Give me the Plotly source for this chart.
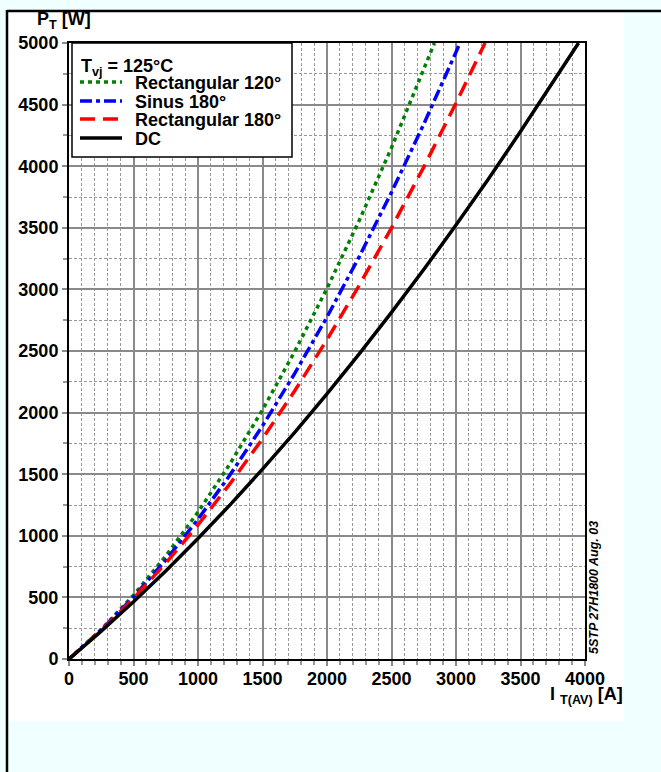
import plotly.graph_objects as go

# Average on-state current I_T(AV) [A] and power loss P_T [W]
i_rect120 = [0, 250, 500, 750, 1000, 1250, 1500, 1750, 2000, 2250, 2500, 2750, 2833]
p_rect120 = [0, 240, 518, 836, 1192, 1588, 2022, 2496, 3008, 3560, 4150, 4780, 5000]

i_sin180 = [0, 250, 500, 750, 1000, 1250, 1500, 1750, 2000, 2250, 2500, 2750, 3000, 3030]
p_sin180 = [0, 236, 504, 803, 1134, 1497, 1892, 2318, 2776, 3266, 3788, 4341, 4926, 5000]

i_rect180 = [0, 250, 500, 750, 1000, 1250, 1500, 1750, 2000, 2250, 2500, 2750, 3000, 3225]
p_rect180 = [0, 233, 492, 777, 1088, 1425, 1788, 2177, 2592, 3033, 3500, 3993, 4512, 5000]

i_dc = [0, 250, 500, 750, 1000, 1250, 1500, 1750, 2000, 2250, 2500, 2750, 3000, 3250, 3500, 3750, 3950]
p_dc = [0, 226, 465, 715, 978, 1253, 1541, 1840, 2152, 2476, 2813, 3161, 3522, 3895, 4281, 4678, 5000]

series_names = ["Rectangular 120°", "Sinus 180°", "Rectangular 180°", "DC"]
x_ticks = [0, 500, 1000, 1500, 2000, 2500, 3000, 3500, 4000]
y_ticks = [0, 500, 1000, 1500, 2000, 2500, 3000, 3500, 4000, 4500, 5000]

FONT = "Liberation Sans, Arial, sans-serif"
bold = dict(family=FONT, size=18, color="black", weight="bold")

styles = [
    dict(color="#008000", width=3.5, dash="4px,4px"),
    dict(color="#0000FF", width=3.5, dash="12px,4px,4px,4px"),
    dict(color="#FF0000", width=3.5, dash="15px,8px"),
    dict(color="black", width=3.5),
]
data = [(i_rect120, p_rect120), (i_sin180, p_sin180), (i_rect180, p_rect180), (i_dc, p_dc)]

fig = go.Figure()
for (xs, ys), name, st in zip(data, series_names, styles):
    fig.add_trace(go.Scatter(x=xs, y=ys, mode="lines", name=name, line=st, showlegend=False))

W, H = 661, 772
L, R, T, B = 69, 76, 43, 113
pw, ph = W - L - R, H - T - B

def px(xp):
    return (xp - L) / pw

def py(yp):
    return (H - B - yp) / ph

axis_common = dict(
    showline=True, linecolor="black", linewidth=2, mirror=True,
    showgrid=True, gridcolor="#8a8a8a", gridwidth=1.8,
    ticks="outside", ticklen=5, tickcolor="#8a8a8a", tickwidth=1.5,
    tickfont=bold, zeroline=False, automargin=False,
)

fig.update_xaxes(range=[0, 4000], tickvals=x_ticks, ticktext=[str(v) for v in x_ticks],
                 ticklabelstandoff=-3,
                 minor=dict(dtick=100, showgrid=True, gridcolor="#999999", gridwidth=1,
                            griddash="3px,2px", ticks="outside", ticklen=4, tickcolor="#999999"),
                 **axis_common)
fig.update_yaxes(range=[0, 5000], tickvals=y_ticks, ticktext=[str(v) for v in y_ticks],
                 minor=dict(dtick=250, showgrid=True, gridcolor="#999999", gridwidth=1,
                            griddash="3px,2px", ticks="outside", ticklen=4, tickcolor="#999999"),
                 **axis_common)

shapes = [
    # white panel
    dict(type="rect", xref="paper", yref="paper", x0=px(8), x1=px(624), y0=py(721), y1=py(12),
         fillcolor="white", line=dict(width=0), layer="below"),
    # frame lines (top and left)
    dict(type="line", xref="paper", yref="paper", x0=px(7), x1=px(661), y0=py(11), y1=py(11),
         line=dict(color="black", width=2.5)),
    dict(type="line", xref="paper", yref="paper", x0=px(7), x1=px(7), y0=py(10), y1=py(772),
         line=dict(color="black", width=2.5)),
    # legend box
    dict(type="rect", xref="paper", yref="paper", x0=px(72), x1=px(292), y0=py(157), y1=py(43),
         fillcolor="white", line=dict(color="black", width=1.5)),
]

annotations = [
    dict(xref="paper", yref="paper", x=px(35), y=py(21), xanchor="left", yanchor="middle",
         text="P<sub>T</sub> [W]", showarrow=False, font=bold),
    dict(xref="paper", yref="paper", x=px(625), y=py(682), xanchor="right", yanchor="top",
         text="I <sub>T(AV)</sub> [A]", showarrow=False, font=bold),
    dict(xref="paper", yref="paper", x=px(594), y=py(588), xanchor="center", yanchor="middle",
         text="<i>5STP 27H1800 Aug. 03</i>", textangle=-90, showarrow=False,
         font=dict(family=FONT, size=12.5, color="black")),
    dict(xref="paper", yref="paper", x=px(79), y=py(67), xanchor="left", yanchor="middle",
         text="T<sub>vj</sub> = 125°C", showarrow=False, font=bold),
]

row_y = [82, 101, 119, 138]
for name, st, ry in zip(series_names, styles, row_y):
    shapes.append(dict(type="line", xref="paper", yref="paper", x0=px(80), x1=px(122),
                       y0=py(ry), y1=py(ry), line=st))
    annotations.append(dict(xref="paper", yref="paper", x=px(133), y=py(ry + 1),
                            xanchor="left", yanchor="middle", text=name,
                            showarrow=False, font=bold))

fig.update_layout(
    width=W, height=H,
    margin=dict(l=L, r=R, t=T, b=B, pad=0),
    paper_bgcolor="#F0FFFF", plot_bgcolor="white",
    font=bold,
    showlegend=False,
    shapes=shapes,
    annotations=annotations,
)

fig.write_html("out.html")
